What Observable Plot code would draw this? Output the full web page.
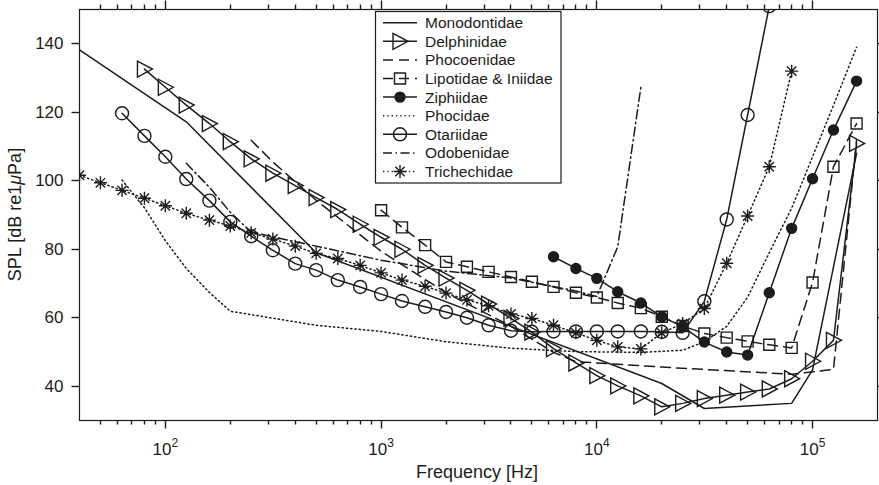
<!DOCTYPE html>
<html><head><meta charset="utf-8">
<script src="https://cdn.jsdelivr.net/npm/d3@7"></script>
<script src="https://cdn.jsdelivr.net/npm/@observablehq/plot@0.6"></script>
<style>html,body{margin:0;padding:0;background:#fff;}</style>
</head><body><div id="chart"></div>
<script>
// ---------- data ----------
const seriesNames = ["Monodontidae","Delphinidae","Phocoenidae","Lipotidae & Iniidae","Ziphiidae","Phocidae","Otariidae","Odobenidae","Trichechidae"];

const freqMonodontidae = [40, 125, 500, 20000, 31500, 80000, 100000, 160000];
const splMonodontidae  = [138.2, 117.2, 79.0, 40.8, 33.5, 35.0, 44.8, 108.0];

const freqDelphinidae = [80,100,125,160,200,250,315,400,500,630,800,1000,1250,1600,2000,2500,3150,4000,5000,6300,8000,10000,12500,16000,20000,25000,31500,40000,50000,63000,80000,100000,125000,160000];
const splDelphinidae  = [132.6,127.3,122.1,116.7,111.4,106.4,102.2,98.6,95.1,91.6,87.3,83.5,80.0,75.3,71.6,68.0,64.0,59.8,55.8,51.0,46.8,43.1,40.1,37.2,34.0,35.0,36.4,37.4,38.3,39.2,42.2,47.3,53.4,110.9];

const freqPhocoenidae = [250,315,500,1000,2000,4000,6300,8000,20000,80000,125000,160000];
const splPhocoenidae  = [111.8,105.5,94.3,79.4,67.3,57.5,49.9,47.2,45.6,43.5,44.9,112.0];

const freqLipotidae = [1000,1250,1600,2000,2500,3150,4000,5000,6300,8000,10000,12500,16000,20000,25000,31500,40000,50000,63000,80000,100000,125000,160000];
const splLipotidae  = [91.4,86.4,81.2,76.3,74.9,73.4,71.9,70.5,69.0,67.3,65.9,64.3,62.8,60.3,57.6,55.4,54.2,53.1,52.1,51.2,70.3,104.1,116.7];

const freqZiphiidae = [6300,8000,10000,12500,16000,20000,25000,31500,40000,50000,63000,80000,100000,125000,160000];
const splZiphiidae  = [77.8,74.4,71.5,67.6,64.3,60.3,57.4,52.9,50.0,49.1,67.3,86.1,100.6,114.8,129.1];

const freqPhocidae = [63,80,100,125,160,200,500,1000,2000,4000,8000,16000,25000,31500,40000,50000,63000,80000,100000,125000,160000];
const splPhocidae  = [100.2,92.1,82.5,74.4,67.4,61.9,57.8,56.0,53.0,51.1,50.1,49.9,50.5,53.0,57.5,66.0,79.0,92.0,107.0,122.0,139.0];

const freqOtariidae = [63,80,100,125,160,200,250,315,400,500,630,800,1000,1250,1600,2000,2500,3150,4000,5000,6300,8000,10000,12500,16000,20000,25000,31500,40000,50000,63000];
const splOtariidae  = [119.7,113.1,107.0,100.5,94.2,88.0,83.8,79.7,75.8,73.9,71.0,69.0,66.9,64.9,63.2,61.7,60.0,57.8,56.2,55.9,56.0,56.0,56.0,56.0,56.0,55.9,55.6,64.8,88.7,119.2,151.0];

const freqOdobenidae = [125,160,200,250,1000,2000,4000,8000,10000,12500,16000];
const splOdobenidae  = [105.1,98.1,90.8,85.0,76.8,73.6,71.6,67.8,66.2,80.7,127.3];

const freqTrichechidae = [40,50,63,80,100,125,160,200,250,315,400,500,630,800,1000,1250,1600,2000,2500,3150,4000,5000,6300,8000,10000,12500,16000,20000,25000,31500,40000,50000,63000,80000];
const splTrichechidae  = [101.6,99.4,97.2,94.9,92.7,90.5,88.5,86.8,84.8,83.0,80.9,78.8,77.3,75.3,73.1,71.0,69.2,67.2,65.2,63.5,61.1,59.8,57.8,55.6,53.4,51.5,50.9,55.6,58.3,62.7,75.9,89.7,104.1,132.0];

const xMajorTicks = [100, 1000, 10000, 100000];
const xMinorTicks = [50,60,70,80,90,200,300,400,500,600,700,800,900,2000,3000,4000,5000,6000,7000,8000,9000,20000,30000,40000,50000,60000,70000,80000,90000];
const yTicks = [40, 60, 80, 100, 120, 140];

// ---------- styling ----------
const ink = "#1c1c1c";
const FONT = "Liberation Sans, Arial, Helvetica, sans-serif";

const triRight = {draw(ctx, size) { const r = Math.sqrt(size / Math.PI), k = r / 7;
  ctx.moveTo(-7*k, -8*k); ctx.lineTo(8*k, 0); ctx.lineTo(-7*k, 8*k); ctx.closePath(); }};
const squareSym = {draw(ctx, size) { const r = Math.sqrt(size / Math.PI);
  ctx.moveTo(-r, -r); ctx.lineTo(r, -r); ctx.lineTo(r, r); ctx.lineTo(-r, r); ctx.closePath(); }};
const starSym = {draw(ctx, size) { const r = Math.sqrt(size / Math.PI), d = r * 0.72;
  ctx.moveTo(-r, 0); ctx.lineTo(r, 0); ctx.moveTo(0, -r); ctx.lineTo(0, r);
  ctx.moveTo(-d, -d); ctx.lineTo(d, d); ctx.moveTo(-d, d); ctx.lineTo(d, -d); }};
const circleSym = d3.symbolCircle;

const DASH = "10,6", DOT = "1.3,3", DASHDOT = "9,3.5,1.5,3.5";

const series = [
  {name: seriesNames[0], f: freqMonodontidae, v: splMonodontidae, dash: null, sym: null},
  {name: seriesNames[1], f: freqDelphinidae, v: splDelphinidae, dash: null, sym: triRight, r: 7, fill: "none"},
  {name: seriesNames[2], f: freqPhocoenidae, v: splPhocoenidae, dash: DASH, sym: null},
  {name: seriesNames[3], f: freqLipotidae, v: splLipotidae, dash: DASH, sym: squareSym, r: 5.5, fill: "none"},
  {name: seriesNames[4], f: freqZiphiidae, v: splZiphiidae, dash: null, sym: circleSym, r: 5, fill: ink},
  {name: seriesNames[5], f: freqPhocidae, v: splPhocidae, dash: DOT, sym: null},
  {name: seriesNames[6], f: freqOtariidae, v: splOtariidae, dash: null, sym: circleSym, r: 6.5, fill: "none"},
  {name: seriesNames[7], f: freqOdobenidae, v: splOdobenidae, dash: DASHDOT, sym: null},
  {name: seriesNames[8], f: freqTrichechidae, v: splTrichechidae, dash: DOT, sym: starSym, r: 6.5, fill: "none"}
];

const marks = [];
for (const s of series) {
  const rows = s.f.map((f, i) => ({f, v: s.v[i]}));
  marks.push(Plot.line(rows, {x: "f", y: "v", stroke: ink, strokeWidth: 1.5, strokeDasharray: s.dash || undefined, clip: true}));
  if (s.sym) marks.push(Plot.dot(rows, {x: "f", y: "v", symbol: s.sym, r: s.r, stroke: ink, strokeWidth: 1.4, fill: s.fill, clip: true}));
}

const svg = Plot.plot({
  width: 879, height: 485,
  marginLeft: 79, marginRight: 2, marginTop: 9, marginBottom: 65,
  style: {fontFamily: FONT, fontSize: "17px", color: ink, background: "white"},
  x: {type: "log", domain: [40, 200000]},
  y: {domain: [30, 150]},
  marks: [
    ...marks,
    Plot.frame({stroke: ink, strokeWidth: 1.2}),
    Plot.axisX({anchor: "bottom", ticks: xMajorTicks, tickSize: 0, tickPadding: 22, tickFormat: d => String(Math.round(Math.log10(d))), label: null}),
    Plot.axisY({anchor: "left", ticks: yTicks, tickSize: 0, tickPadding: 16, label: null})
  ]
});

const root = d3.select(svg);
const sx = svg.scale("x"), sy = svg.scale("y");
const X0 = 79, X1 = 877, Y0 = 9, Y1 = 420;

// tick marks drawn from Plot's scales (outward, on all four sides)
const tk = root.append("g").attr("stroke", ink).attr("stroke-width", 1.4).attr("fill", "none");
for (const [ticks, len] of [[xMajorTicks, 8.5], [xMinorTicks, 4.5]]) {
  for (const t of ticks) {
    const x = Math.round(sx.apply(t)) + 0.5;
    tk.append("line").attr("x1", x).attr("x2", x).attr("y1", Y1).attr("y2", Y1 + len);
    tk.append("line").attr("x1", x).attr("x2", x).attr("y1", Y0).attr("y2", Y0 - len);
  }
}
for (const t of yTicks) {
  const y = Math.round(sy.apply(t)) + 0.5;
  tk.append("line").attr("x1", X0).attr("x2", X0 - 7.5).attr("y1", y).attr("y2", y);
  tk.append("line").attr("x1", X1).attr("x2", X1 + 7.5).attr("y1", y).attr("y2", y);
}

// x tick labels as 10^n with superscript
root.selectAll('g[aria-label="x-axis tick label"] text').each(function() {
  const t = d3.select(this); const e = t.text();
  if (!e) return;
  t.text("10");
  t.append("tspan").attr("dy", -8).attr("font-size", 12).text(e);
});

// axis titles
root.append("text").attr("x", 477).attr("y", 478).attr("text-anchor", "middle")
  .attr("font-size", 18).attr("fill", ink).attr("font-family", FONT).text("Frequency [Hz]");
const yl = root.append("text").attr("transform", "translate(20.5,214.5) rotate(-90)")
  .attr("text-anchor", "middle").attr("font-size", 18).attr("fill", ink).attr("font-family", FONT);
yl.append("tspan").text("SPL [dB re1");
yl.append("tspan").attr("font-style", "italic").text("μ");
yl.append("tspan").text("Pa]");

// legend
const lg = root.append("g").attr("font-family", FONT).attr("text-anchor", "start");
lg.append("rect").attr("x", 375.5).attr("y", 11.5).attr("width", 185.5).attr("height", 171.5)
  .attr("fill", "white").attr("stroke", ink).attr("stroke-width", 1.2);
series.forEach((s, i) => {
  const yy = 22.7 + i * 18.6;
  lg.append("line").attr("x1", 383).attr("x2", 417).attr("y1", yy).attr("y2", yy)
    .attr("stroke", ink).attr("stroke-width", 1.5).attr("stroke-dasharray", s.dash);
  if (s.sym) lg.append("path").attr("transform", `translate(400,${yy})`)
    .attr("d", d3.symbol().type(s.sym).size(s.r * s.r * Math.PI)())
    .attr("fill", s.fill).attr("stroke", ink).attr("stroke-width", 1.4);
  lg.append("text").attr("x", 425).attr("y", yy).attr("dy", "0.36em").attr("font-size", 15.5)
    .attr("text-anchor", "start").attr("fill", ink).text(s.name);
});

document.getElementById("chart").appendChild(svg);
</script>
</body></html>
